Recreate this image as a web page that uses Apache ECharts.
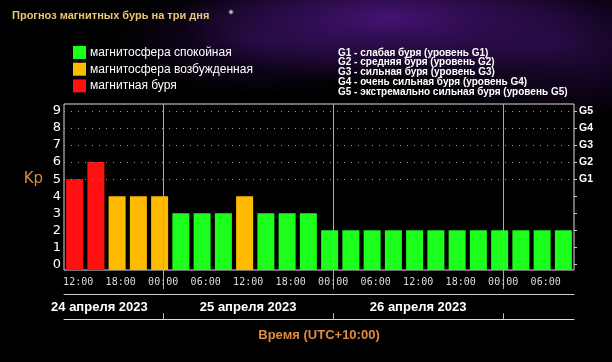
<!DOCTYPE html>
<html><head><meta charset="utf-8">
<script src="https://cdn.jsdelivr.net/npm/echarts@6/dist/echarts.min.js"></script>
<style>
html,body{margin:0;padding:0;background:#000;}
#c{width:612px;height:362px;background:
 radial-gradient(circle 3px at 231px 12px, rgba(255,255,255,0.95), rgba(255,255,255,0)),
 radial-gradient(ellipse 210px 65px at 390px 18px, rgba(80,22,135,0.85), rgba(0,0,0,0)),
 radial-gradient(ellipse 170px 75px at 560px 45px, rgba(60,16,105,0.6), rgba(0,0,0,0)),
 radial-gradient(ellipse 150px 55px at 260px 40px, rgba(50,14,90,0.55), rgba(0,0,0,0)),
 #000;}
</style></head>
<body><div id="c"></div>
<script>
const titleText = 'Прогноз магнитных бурь на три дня';
// Kp forecast, 3-hour intervals starting 24 April 2023 10:00 (UTC+10)
const kpValues = [5, 6, 4, 4, 4, 3, 3, 3, 4, 3, 3, 3, 2, 2, 2, 2, 2, 2, 2, 2, 2, 2, 2, 2];
const firstSlotHour = 10;   // hours since 24 April 00:00
const slotHours = 3;
const rangeStartHour = 10;
const rangeEndHour = 82;
const timeTickHours = [12, 18, 24, 30, 36, 42, 48, 54, 60, 66, 72, 78];
const timeTickLabels = ['12:00', '18:00', '00:00', '06:00', '12:00', '18:00', '00:00', '06:00', '12:00', '18:00', '00:00', '06:00'];
const dayBoundaryHours = [24, 48, 72];
const dayLabels = ['24 апреля 2023', '25 апреля 2023', '26 апреля 2023'];
const dayLabelHours = [15, 36, 60];
const kpTicks = [0, 1, 2, 3, 4, 5, 6, 7, 8, 9];
const gLevelKp = [5, 6, 7, 8, 9];
const gLevelLabels = ['G1', 'G2', 'G3', 'G4', 'G5'];
const levelNames = ['магнитосфера спокойная', 'магнитосфера возбужденная', 'магнитная буря'];
const gDescriptions = [
  'G1 - слабая буря (уровень G1)',
  'G2 - средняя буря (уровень G2)',
  'G3 - сильная буря (уровень G3)',
  'G4 - очень сильная буря (уровень G4)',
  'G5 - экстремально сильная буря (уровень G5)'
];
const axisTitle = 'Время (UTC+10:00)';
const yName = 'Kp';

const barData = kpValues.map((v, i) => [firstSlotHour + slotHours * i + slotHours / 2, v]);
const threeHourTicks = [];
for (let h = 12; h < rangeEndHour; h += 3) threeHourTicks.push(h);

const chart = echarts.init(document.getElementById('c'), null, {renderer: 'canvas'});
const Y_MIN = -0.33, Y_MAX = 9.41;
const xBase = {type: 'value', gridIndex: 0, min: rangeStartHour, max: rangeEndHour, position: 'bottom', splitLine: {show: false}};
chart.setOption({
  animation: false,
  backgroundColor: 'transparent',
  title: {
    text: titleText, left: 7, top: 5,
    textStyle: {color: '#e8c872', fontSize: 11, fontWeight: 'bold', fontFamily: 'Liberation Sans'}
  },
  graphic: [{
    type: 'text', left: 338, top: 48,
    style: {text: gDescriptions.join('\n'), fill: '#ffffff', font: 'bold 10px "Liberation Sans"', lineHeight: 9.7}
  }],
  visualMap: {
    type: 'piecewise', orient: 'vertical', left: 58, top: 31,
    dimension: 1, seriesIndex: 0, selectedMode: false,
    itemWidth: 13, itemHeight: 13, itemGap: 3.7, textGap: 4, itemSymbol: 'rect',
    textStyle: {color: '#ffffff', fontSize: 12, fontFamily: 'Liberation Sans'},
    inverse: true,
    pieces: [
      {lt: 4, label: levelNames[0], color: '#1cff1c'},
      {gte: 4, lt: 5, label: levelNames[1], color: '#ffbb00'},
      {gte: 5, label: levelNames[2], color: '#ff1111'}
    ]
  },
  grid: {left: 64, right: 38, top: 104, bottom: 92, show: true, backgroundColor: '#000', borderColor: '#dddddd', borderWidth: 1},
  xAxis: [
    Object.assign({}, xBase, {
      axisLine: {show: false},
      axisTick: {show: true, customValues: threeHourTicks, length: 2, lineStyle: {color: '#888'}},
      axisLabel: {show: true, customValues: timeTickHours, margin: 7,
        formatter: v => timeTickLabels[timeTickHours.indexOf(v)],
        color: '#dddddd', fontSize: 10, fontFamily: 'DejaVu Sans Mono'}
    }),
    Object.assign({}, xBase, {
      axisLine: {show: false},
      axisTick: {show: true, customValues: dayBoundaryHours, length: 24.7, lineStyle: {color: '#aaaaaa'}},
      axisLabel: {show: false}
    }),
    Object.assign({}, xBase, {
      offset: 24.7,
      axisLine: {show: true, lineStyle: {color: '#cccccc'}},
      axisTick: {show: false},
      axisLabel: {show: true, customValues: dayLabelHours, margin: 6,
        formatter: v => dayLabels[dayLabelHours.indexOf(v)],
        color: '#ffffff', fontSize: 13, fontWeight: 'bold', fontFamily: 'Liberation Sans'}
    }),
    Object.assign({}, xBase, {
      offset: 49.3,
      axisLine: {show: true, lineStyle: {color: '#dddddd'}},
      axisTick: {show: true, inside: true, customValues: dayBoundaryHours, length: 6, lineStyle: {color: '#bbbbbb'}},
      axisLabel: {show: false},
      name: axisTitle, nameLocation: 'middle', nameGap: 10,
      nameTextStyle: {color: '#e08a3e', fontSize: 13, fontWeight: 'bold', fontFamily: 'Liberation Sans', verticalAlign: 'top'}
    })
  ],
  yAxis: [
    {
      type: 'value', gridIndex: 0, position: 'left', min: Y_MIN, max: Y_MAX, startValue: Y_MIN,
      splitLine: {show: false}, axisLine: {show: false}, axisTick: {show: false},
      axisLabel: {customValues: kpTicks, margin: 3, color: '#ffffff', fontSize: 13, fontFamily: 'DejaVu Sans'},
      name: yName, nameLocation: 'middle', nameRotate: 0, nameGap: 21,
      nameTextStyle: {color: '#d98a40', fontSize: 15, fontFamily: 'DejaVu Sans', verticalAlign: 'bottom'}
    },
    {
      type: 'value', gridIndex: 0, position: 'right', min: Y_MIN, max: Y_MAX,
      splitLine: {show: false}, axisLine: {show: false},
      axisTick: {show: true, customValues: kpTicks, length: 3, lineStyle: {color: '#cccccc'}},
      axisLabel: {customValues: gLevelKp, margin: 5,
        formatter: v => gLevelLabels[gLevelKp.indexOf(v)],
        color: '#ffffff', fontSize: 10.5, fontWeight: 'bold', fontFamily: 'Liberation Sans'}
    }
  ],
  series: [{
    type: 'bar', xAxisIndex: 0, yAxisIndex: 0,
    data: barData, barWidth: 17,
    markLine: {
      silent: true, symbol: 'none', label: {show: false},
      data: [
        ...gLevelKp.map(k => ({yAxis: k, lineStyle: {color: '#9a9a9a', width: 1, type: [1, 6]}})),
        ...dayBoundaryHours.map(h => ({xAxis: h, lineStyle: {color: '#aaaaaa', width: 1, type: 'solid'}}))
      ]
    }
  }]
});
</script>
</body></html>
